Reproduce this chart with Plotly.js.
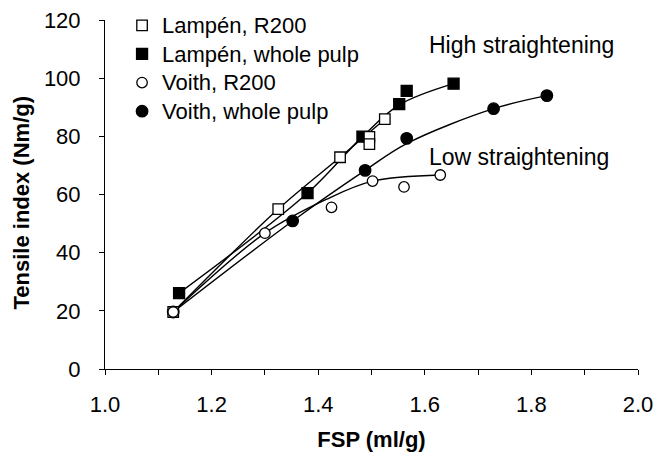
<!DOCTYPE html>
<html>
<head>
<meta charset="utf-8">
<script src="https://cdn.plot.ly/plotly-3.0.1.min.js"></script>
<style>
  html, body { margin: 0; padding: 0; background: #ffffff; }
  #chart { width: 663px; height: 453px; }
</style>
</head>
<body>
<div id="chart"></div>
<script>
// Freeness (FSP, ml/g) vs tensile index (Nm/g) for two refiner lines
const seriesNames = ["Lampén, R200", "Lampén, whole pulp", "Voith, R200", "Voith, whole pulp"];

// Measured points
const lampenR200X   = [1.128, 1.325, 1.441, 1.496, 1.496, 1.525];
const lampenR200Y   = [19.6, 55.0, 72.8, 79.8, 77.3, 85.9];
const lampenWholeX  = [1.139, 1.380, 1.483, 1.552, 1.566, 1.654];
const lampenWholeY  = [26.1, 60.5, 79.9, 91.1, 95.6, 98.1];
const voithR200X    = [1.128, 1.300, 1.425, 1.502, 1.561, 1.629];
const voithR200Y    = [19.6, 46.7, 55.6, 64.6, 62.6, 66.7];
const voithWholeX   = [1.128, 1.352, 1.488, 1.566, 1.729, 1.829];
const voithWholeY   = [19.6, 50.9, 68.3, 79.3, 89.5, 94.0];

// Smoothed trend curves drawn through the series
const lampenR200CurveX  = [1.128, 1.325, 1.441, 1.525];
const lampenR200CurveY  = [19.6, 55.0, 72.8, 85.9];
const lampenWholeCurveX = [1.139, 1.380, 1.483, 1.552, 1.654];
const lampenWholeCurveY = [26.1, 60.5, 79.9, 90.8, 98.1];
const voithR200CurveX   = [1.128, 1.300, 1.415, 1.502, 1.629];
const voithR200CurveY   = [19.6, 46.7, 58.3, 64.6, 66.7];
const voithWholeCurveX  = [1.128, 1.352, 1.488, 1.566, 1.729, 1.829];
const voithWholeCurveY  = [19.6, 50.9, 68.3, 77.5, 89.5, 94.0];

const annotationTexts = ["High straightening", "Low straightening"];
const annotationX = [1.604, 1.604];
const annotationY = [111.4, 73.0];

const xTitle = "FSP (ml/g)";
const yTitle = "Tensile index (Nm/g)";

function curveTrace(xs, ys) {
  return {
    x: xs, y: ys, type: "scatter", mode: "lines",
    line: { color: "#000000", width: 1.4, shape: "spline", smoothing: 1 },
    showlegend: false, hoverinfo: "skip"
  };
}

function markerTrace(name, xs, ys, symbol, fill, size, rank) {
  return {
    x: xs, y: ys, type: "scatter", mode: "markers",
    name: '<span style="font-size:22px">' + name + '</span>',
    legendrank: rank,
    marker: { symbol: symbol, size: size, color: fill, line: { color: "#000000", width: 1.3 } }
  };
}

const data = [
  curveTrace(lampenR200CurveX, lampenR200CurveY),
  curveTrace(lampenWholeCurveX, lampenWholeCurveY),
  curveTrace(voithR200CurveX, voithR200CurveY),
  curveTrace(voithWholeCurveX, voithWholeCurveY),
  markerTrace(seriesNames[3], voithWholeX, voithWholeY, "circle", "#000000", 11.5, 4),
  markerTrace(seriesNames[1], lampenWholeX, lampenWholeY, "square", "#000000", 11, 2),
  markerTrace(seriesNames[0], lampenR200X, lampenR200Y, "square", "#ffffff", 10.5, 1),
  markerTrace(seriesNames[2], voithR200X, voithR200Y, "circle", "#ffffff", 10.5, 3)
];

const fontFamily = "Arial, 'Liberation Sans', sans-serif";

const textNotes = annotationTexts.map((t, i) => ({
  text: t, x: annotationX[i], y: annotationY[i], xref: "x", yref: "y",
  xanchor: "left", yanchor: "middle", showarrow: false,
  font: { family: fontFamily, size: 23, color: "#000000" }
}));

// Vertical axis title, set a little below the axis centre
textNotes.push({
  text: "<b>" + yTitle + "</b>", textangle: -90,
  x: -0.157, y: 0.478, xref: "paper", yref: "paper",
  xanchor: "center", yanchor: "middle", showarrow: false,
  font: { family: fontFamily, size: 22, color: "#000000" }
});

const layout = {
  width: 663, height: 453,
  margin: { l: 105, r: 25, t: 20, b: 84, autoexpand: false },
  paper_bgcolor: "#ffffff", plot_bgcolor: "#ffffff",
  font: { family: fontFamily, color: "#000000", size: 22 },
  showlegend: true,
  legend: {
    x: 0.032, y: 1.040, xanchor: "left", yanchor: "top",
    bgcolor: "rgba(0,0,0,0)", borderwidth: 0,
    font: { family: fontFamily, size: 19.7, color: "#000000" },
    tracegroupgap: 0
  },
  xaxis: {
    range: [1, 2], dtick: 0.2, tick0: 1, tickformat: ".1f",
    ticks: "outside", ticklen: 5, tickwidth: 1, tickcolor: "#000000",
    minor: { dtick: 0.1, ticks: "outside", ticklen: 5, tickwidth: 1, tickcolor: "#000000" },
    showline: true, linecolor: "#000000", linewidth: 1,
    showgrid: false, zeroline: false,
    tickfont: { family: fontFamily, size: 22, color: "#000000" },
    ticklabelstandoff: 11,
    title: { text: "<b>" + xTitle + "</b>", font: { family: fontFamily, size: 22, color: "#000000" }, standoff: 15 }
  },
  yaxis: {
    range: [0, 120], dtick: 20, tick0: 0,
    ticks: "outside", ticklen: 5, tickwidth: 1, tickcolor: "#000000",
    showline: true, linecolor: "#000000", linewidth: 1,
    showgrid: false, zeroline: false,
    tickfont: { family: fontFamily, size: 22, color: "#000000" },
    ticklabelstandoff: 14
  },
  annotations: textNotes
};

Plotly.newPlot("chart", data, layout, { displayModeBar: false, staticPlot: true });
</script>
</body>
</html>
